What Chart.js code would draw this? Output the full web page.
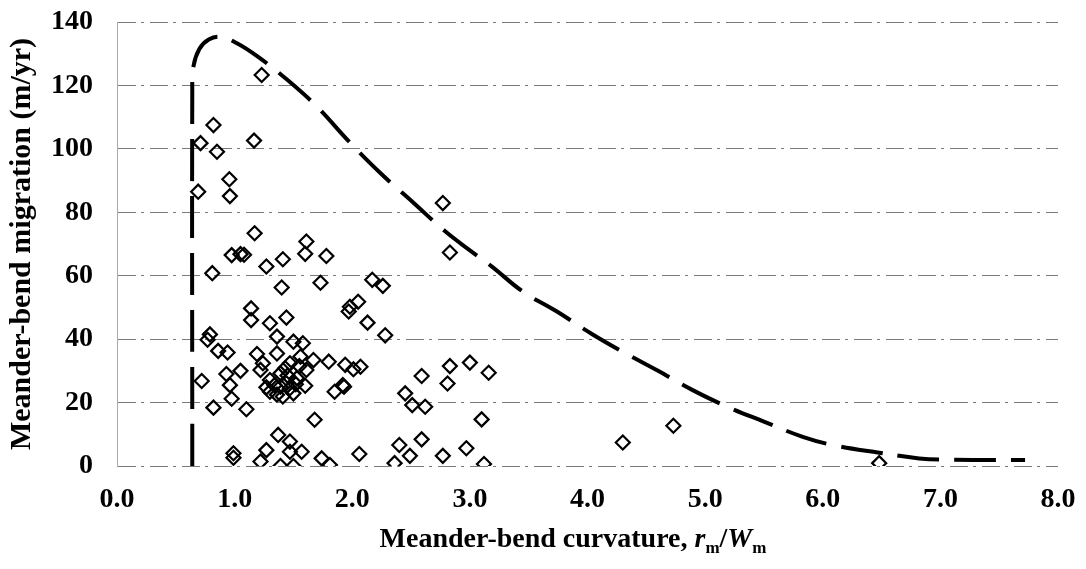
<!DOCTYPE html>
<html>
<head>
<meta charset="utf-8">
<script src="https://cdn.jsdelivr.net/npm/chart.js@4"></script>
<style>
  html, body { margin: 0; padding: 0; background: #fff; }
</style>
</head>
<body>
<canvas id="chart" width="1086" height="569"></canvas>
<script>
// Observed bends: curvature r_m/W_m and migration (m/yr)
const bendX = [
  1.23, 0.82, 0.71, 0.85, 1.165, 0.955, 0.96, 0.69, 1.17, 1.61,
  0.975, 1.05, 1.08, 0.81, 1.27, 1.41, 1.60, 1.78, 1.40, 1.73,
  1.14, 1.14, 1.30, 1.44, 0.79, 0.77, 0.86, 0.94, 1.19, 1.36,
  1.36, 1.50, 1.58, 1.24, 1.56, 1.67, 1.80, 0.72, 0.93, 1.05,
  0.96, 0.975, 0.82, 1.10,
  1.22, 1.30, 1.39, 1.47, 1.39, 1.30, 1.41, 1.50, 1.60, 1.44,
  1.53, 1.61, 1.34, 1.47, 1.55, 1.43, 1.27, 1.36, 1.52, 1.45,
  1.85, 1.92, 1.68,
  2.77, 2.83, 2.17, 2.26, 2.05, 1.98, 1.97, 2.13, 2.28, 1.94,
  2.01, 2.07, 1.93, 2.59, 2.83, 2.81, 3.00, 3.16, 2.45, 2.51,
  2.62, 3.10, 2.59, 2.40, 2.49, 2.06, 2.77, 2.97, 2.36, 3.12,
  4.30, 4.73, 6.48,
  0.99, 0.99, 1.22, 1.27, 1.37, 1.47, 1.39, 1.50, 1.47, 1.57,
  1.74, 1.81
];
const bendY = [
  123.3, 107.5, 101.8, 99.1, 102.6, 90.4, 85.1, 86.5, 73.4, 70.8,
  66.5, 66.8, 66.6, 60.8, 62.9, 65.2, 66.9, 66.2, 56.3, 57.8,
  49.7, 46.0, 45.0, 46.8, 41.5, 39.8, 36.3, 35.8, 35.3, 40.8,
  35.5, 39.2, 38.7, 32.4, 34.5, 33.4, 32.9, 26.8, 29.0, 30.0,
  25.5, 21.2, 18.4, 17.9,
  30.3, 27.1, 29.2, 32.4, 25.0, 23.4, 21.9, 22.9, 25.3, 26.1,
  27.7, 30.3, 25.5, 24.5, 31.5, 30.8, 24.8, 22.5, 25.8, 28.5,
  23.4, 25.5, 14.6,
  82.9, 67.3, 58.7, 56.8, 51.8, 50.2, 48.7, 45.2, 41.2, 31.9,
  30.5, 31.3, 25.0, 28.4, 31.5, 26.0, 32.6, 29.4, 22.9, 19.2,
  18.7, 14.7, 8.4, 6.6, 3.2, 3.8, 3.2, 5.6, 0.9, 0.6,
  7.4, 12.7, 0.9,
  4.0, 2.6, 1.4, 5.0, 9.8, 7.7, 0.0, 0.0, 4.5, 4.5,
  2.4, 0.3
];

// Upper envelope (dashed curve)
const envelopeX = [0.64, 0.64, 0.65, 0.70, 0.78, 0.88, 1.02, 1.20, 1.45, 1.70,
  1.98, 2.25, 2.52, 2.79, 3.00, 3.19, 3.45, 3.74, 4.03, 4.30,
  4.60, 4.89, 5.20, 5.50, 5.83, 6.10, 6.48, 6.82, 7.10, 7.72];
const envelopeY = [0, 118, 126, 131.5, 134.5, 135.3, 133.3, 129, 121.7, 113.3,
  102, 92, 83, 74, 68, 62.8, 55, 48.7, 41.8, 36,
  30, 24, 18.5, 14, 9.2, 6.5, 4.2, 2.4, 2.0, 1.9];

const xTickLabels = ['0.0', '1.0', '2.0', '3.0', '4.0', '5.0', '6.0', '7.0', '8.0'];
const yTickLabels = ['0', '20', '40', '60', '80', '100', '120', '140'];

const serif = 'Liberation Serif';
const tickFont = { family: serif, size: 28, weight: 'bold' };

// x title has italic symbols with subscripts, so it is drawn piece by piece
const xTitlePlugin = {
  id: 'xTitle',
  afterDraw(chart) {
    const ctx = chart.ctx;
    const parts = [
      { text: 'Meander-bend curvature, ', font: `bold 28px "${serif}"`, dy: 0 },
      { text: 'r', font: `italic bold 28px "${serif}"`, dy: 0 },
      { text: 'm', font: `bold 17px "${serif}"`, dy: 6 },
      { text: '/', font: `bold 28px "${serif}"`, dy: 0 },
      { text: 'W', font: `italic bold 28px "${serif}"`, dy: 0 },
      { text: 'm', font: `bold 17px "${serif}"`, dy: 6 }
    ];
    ctx.save();
    ctx.fillStyle = '#000';
    ctx.textBaseline = 'alphabetic';
    ctx.textAlign = 'left';
    let total = 0;
    parts.forEach((p) => {
      ctx.font = p.font;
      p.w = ctx.measureText(p.text).width;
      total += p.w;
    });
    let x = 573 - total / 2;
    const baseY = 547;
    parts.forEach((p) => {
      ctx.font = p.font;
      ctx.fillText(p.text, x, baseY + p.dy);
      x += p.w;
    });
    ctx.restore();
  }
};

new Chart(document.getElementById('chart'), {
  type: 'scatter',
  data: {
    datasets: [
      {
        label: 'Envelope',
        data: envelopeX.map((x, i) => ({ x, y: envelopeY[i] })),
        showLine: true,
        borderColor: '#000',
        borderWidth: 4,
        borderDash: [42, 15],
        borderCapStyle: 'butt',
        tension: 0.4,
        pointRadius: 0,
        fill: false
      },
      {
        label: 'Meander bends',
        data: bendX.map((x, i) => ({ x, y: bendY[i] })),
        pointStyle: 'rectRot',
        pointRadius: 7,
        pointBorderWidth: 2.2,
        pointBorderColor: '#000',
        pointBackgroundColor: 'rgba(255,255,255,0)'
      }
    ]
  },
  options: {
    responsive: false,
    animation: false,
    layout: { padding: 0 },
    plugins: {
      legend: { display: false },
      tooltip: { enabled: false }
    },
    scales: {
      x: {
        type: 'linear',
        min: 0,
        max: 8,
        afterFit: (scale) => {
          scale.height = 103;
          scale.paddingLeft = 0;
          scale.paddingRight = 28;
        },
        afterBuildTicks: (scale) => {
          scale.ticks = xTickLabels.map((t) => ({ value: parseFloat(t) }));
        },
        grid: { display: false, drawTicks: false },
        border: { display: false },
        ticks: {
          padding: 17,
          color: '#000',
          font: tickFont,
          maxRotation: 0,
          callback: (v, i) => xTickLabels[i]
        }
      },
      y: {
        type: 'linear',
        min: 0,
        max: 140,
        afterFit: (scale) => {
          scale.width = 117;
          scale.paddingTop = 22;
          scale.paddingBottom = 0;
        },
        afterBuildTicks: (scale) => {
          scale.ticks = yTickLabels.map((t) => ({ value: parseFloat(t) }));
        },
        grid: {
          color: '#7a7a7a',
          lineWidth: 1,
          drawTicks: false
        },
        // in v4 this dash is also used for the grid lines (broken scan strokes)
        border: { display: true, color: '#aaa', width: 1, dash: [18, 5, 3, 6] },
        ticks: {
          padding: 24,
          color: '#000',
          font: tickFont,
          callback: (v, i) => yTickLabels[i]
        },
        title: {
          display: true,
          text: 'Meander-bend migration (m/yr)',
          color: '#000',
          font: { family: serif, size: 30, weight: 'bold' },
          padding: { top: 4, bottom: 0 }
        }
      }
    }
  },
  plugins: [xTitlePlugin]
});
</script>
</body>
</html>
